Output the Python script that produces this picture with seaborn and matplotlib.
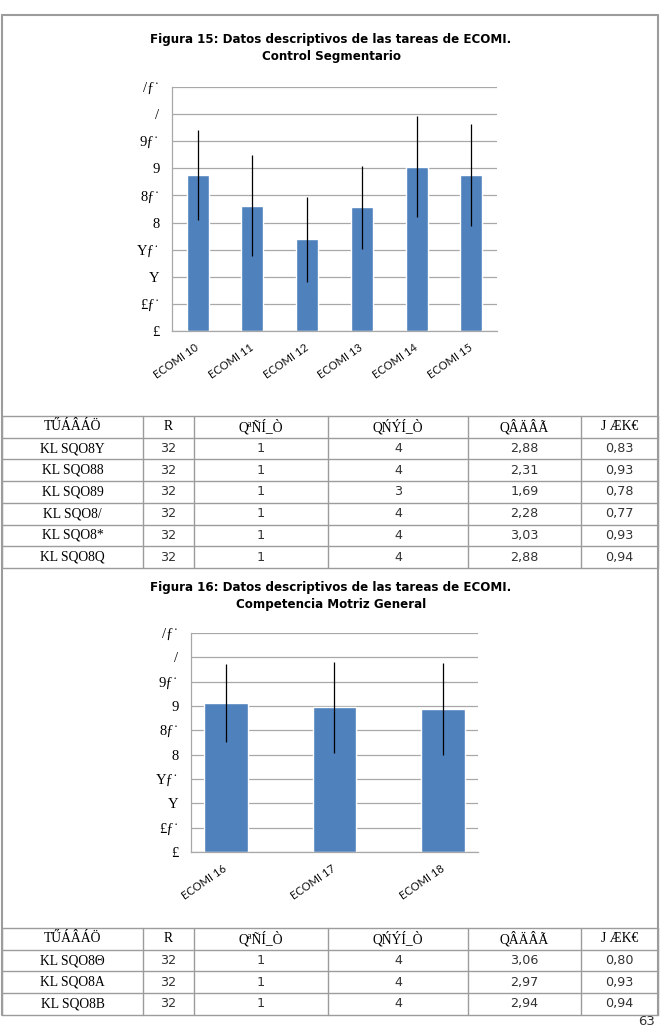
import numpy as np
import pandas as pd
import matplotlib
matplotlib.use("Agg")
import matplotlib.pyplot as plt
import seaborn as sns

# datos figura 15
tareas1 = ["ECOMI 10", "ECOMI 11", "ECOMI 12", "ECOMI 13", "ECOMI 14", "ECOMI 15"]
media1 = [2.88, 2.31, 1.69, 2.28, 3.03, 2.88]
desv1 = [0.83, 0.93, 0.78, 0.77, 0.93, 0.94]
n1 = [32, 32, 32, 32, 32, 32]
min1 = [1, 1, 1, 1, 1, 1]
max1 = [4, 4, 3, 4, 4, 4]
filas1 = ["KL SQO8Y", "KL SQO88", "KL SQO89", "KL SQO8/", "KL SQO8*", "KL SQO8Q"]

# datos figura 16
tareas2 = ["ECOMI 16", "ECOMI 17", "ECOMI 18"]
media2 = [3.06, 2.97, 2.94]
desv2 = [0.80, 0.93, 0.94]
n2 = [32, 32, 32]
min2 = [1, 1, 1]
max2 = [4, 4, 4]
filas2 = ["KL SQO8\u0398", "KL SQO8A", "KL SQO8B"]

cabecera = ["T\u0170\u00c1\u00c2\u00c1\u00d6", "R", "Q\u00aa\u00d1\u00cd_\u00d2",
            "Q\u0143\u00dd\u00cd_\u00d2", "Q\u00c2\u00c4\u00c2\u00c3", "J \u00c6K\u20ac"]

yticks = [0, 0.5, 1, 1.5, 2, 2.5, 3, 3.5, 4, 4.5]
ytick_labels = ["\u00a3", "\u00a3\u0192\u02d9", "Y", "Y\u0192\u02d9", "8", "8\u0192\u02d9",
                "9", "9\u0192\u02d9", "/", "/\u0192\u02d9"]

titulo1 = "Figura 15: Datos descriptivos de las tareas de ECOMI.\nControl Segmentario"
titulo2 = "Figura 16: Datos descriptivos de las tareas de ECOMI.\nCompetencia Motriz General"

sns.set_style("white")
plt.rcParams['font.family'] = ['DejaVu Sans']
plt.rcParams['text.color'] = 'black'

W, H = 660, 1030
fig = plt.figure(figsize=(6.6, 10.3), dpi=100)

# capa de fondo en pixeles para marcos y tablas
ov = fig.add_axes([0, 0, 1, 1])
ov.set_xlim(0, W)
ov.set_ylim(H, 0)
ov.axis('off')

gris = '#9c9c9c'
azul = '#4F81BD'
cols = [2, 143, 194, 328, 468, 581, 658]


def grafico(px, titulo, tareas, media, desv, title_y):
    x0, y0, x1, y1 = px
    ax = fig.add_axes([x0 / W, 1 - y1 / H, (x1 - x0) / W, (y1 - y0) / H])
    sns.barplot(x=tareas, y=media, color=azul, width=0.4, ax=ax, saturation=1)
    ax.errorbar(np.arange(len(tareas)), media, yerr=desv, fmt='none',
                ecolor='black', elinewidth=0.9, capsize=0)
    ax.set_ylim(0, 4.5)
    ax.set_yticks(yticks)
    ax.set_yticklabels(ytick_labels, family=['Liberation Serif', 'DejaVu Serif'],
                       fontsize=10.5, color='black')
    ax.set_xticks(np.arange(len(tareas)))
    ax.set_xticklabels(tareas, rotation=35, ha='right', rotation_mode='anchor',
                       va='center', family=['Lato', 'DejaVu Sans'], fontsize=8,
                       color='#111111')
    ax.tick_params(axis='both', length=0)
    ax.tick_params(axis='x', pad=11)
    ax.tick_params(axis='y', pad=9)
    ax.yaxis.grid(True, color='#a8a8a8', lw=0.9)
    ax.set_axisbelow(True)
    for s in ['top', 'right']:
        ax.spines[s].set_visible(False)
    for s in ['left', 'bottom']:
        ax.spines[s].set_color('#a8a8a8')
        ax.spines[s].set_linewidth(0.9)
    ax.set_xlabel('')
    ax.set_ylabel('')
    ov.text(331, title_y, titulo, ha='center', va='center', fontsize=8.6,
            fontweight='bold', linespacing=1.45, color='black',
            family=['Liberation Sans Narrow', 'DejaVu Sans'])
    return ax


def tabla(top, filas, n, mn, mx, media, desv):
    rh = 21.7
    nfil = len(filas) + 1
    bottom = top + rh * nfil
    for i in range(nfil + 1):
        ov.plot([cols[0], cols[-1]], [top + i * rh] * 2, color=gris, lw=1)
    for c in cols:
        ov.plot([c, c], [top, bottom], color=gris, lw=1)
    centros = [(cols[i] + cols[i + 1]) / 2 for i in range(6)]
    for j, t in enumerate(cabecera):
        ov.text(centros[j], top + rh / 2, t, ha='center', va='center', fontsize=9.8,
                family=['Liberation Serif', 'DejaVu Serif'], color='black')
    for i in range(len(filas)):
        yc = top + rh * (i + 1.5)
        vals = [str(n[i]), str(mn[i]), str(mx[i]),
                f"{media[i]:.2f}".replace('.', ','), f"{desv[i]:.2f}".replace('.', ',')]
        ov.text(centros[0], yc, filas[i], ha='center', va='center', fontsize=9.8,
                family=['Liberation Serif', 'DejaVu Serif'], color='black')
        for j, v in enumerate(vals):
            ov.text(centros[j + 1], yc, v, ha='center', va='center', fontsize=9.2,
                    color='#333333')
    return bottom


# marcos de los graficos
ov.plot([cols[0], cols[-1]], [15, 15], color=gris, lw=1.5)
ov.plot([cols[0], cols[0]], [15, 1015], color=gris, lw=1.5)
ov.plot([cols[-1], cols[-1]], [15, 1015], color=gris, lw=1.5)

grafico((172, 87, 497, 331), titulo1, tareas1, media1, desv1, 48)
tabla(416, filas1, n1, min1, max1, media1, desv1)

grafico((191, 633, 478, 852), titulo2, tareas2, media2, desv2, 596)
tabla(928, filas2, n2, min2, max2, media2, desv2)

ov.text(655, 1028, "63", ha='right', va='bottom', fontsize=9.5, color='#333333')

fig.savefig("out.png", dpi=100)
